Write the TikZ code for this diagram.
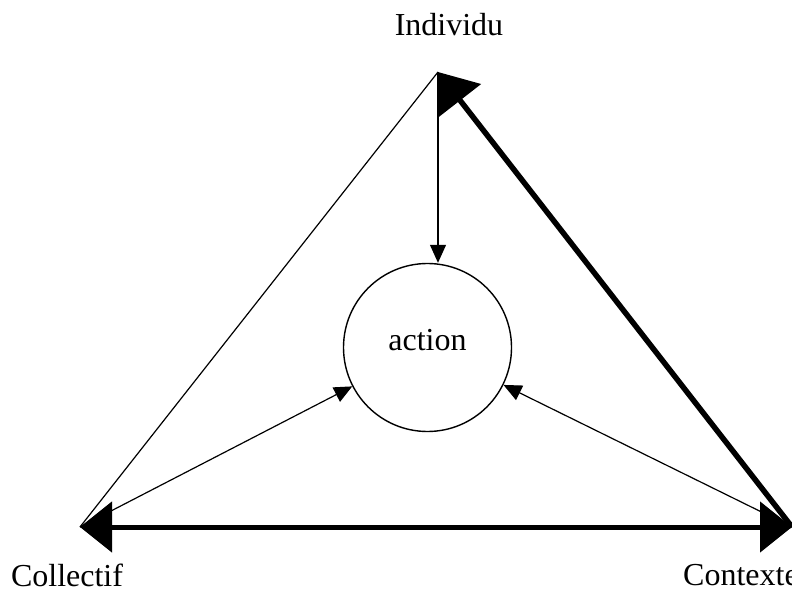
\documentclass[tikz,border=0pt]{standalone}
\usepackage{fontspec}
\setmainfont{Liberation Serif}
\usetikzlibrary{arrows.meta}
\begin{document}
\begin{tikzpicture}[x=1pt,y=-1pt,
  lbl/.style={font=\fontsize{32}{36}\selectfont, inner sep=0pt},
  thinline/.style={line width=1.2pt},
  thinarrow/.style={line width=1.2pt, -{Triangle[length=18pt,width=16pt]}},
  thickarrow/.style={line width=5pt, {Triangle[length=32pt,width=50pt]}-{Triangle[length=32pt,width=50pt]}},
  circ/.style={circle, draw, line width=1.4pt, minimum size=168pt, inner sep=0pt}]
\useasboundingbox (0,0) rectangle (792,593);
\coordinate (I) at (438,72);
\coordinate (C) at (80,527);
\coordinate (X) at (792,527);
\node[circ, label={[lbl,yshift=7pt]center:action}] (A) at (427.5,347.5) {};
\node[lbl] (tI) at (449,25) {Individu};
\node[lbl] (tC) at (67,575) {Collectif};
\node[lbl, anchor=west] (tX) at (683,575) {Contexte};
% thin lines
\draw[thinline] (I) -- (C);
\draw[thinarrow] (I) -- (I |- A.north);
\draw[thinarrow] (C) -- (A);
\draw[thinarrow] (X) -- (A);
% thick lines
\draw[thickarrow] (C) -- (X);
\draw[line width=5.5pt, -{Triangle[length=36pt,width=52pt]}] (X) -- (I);
\end{tikzpicture}
\end{document}
